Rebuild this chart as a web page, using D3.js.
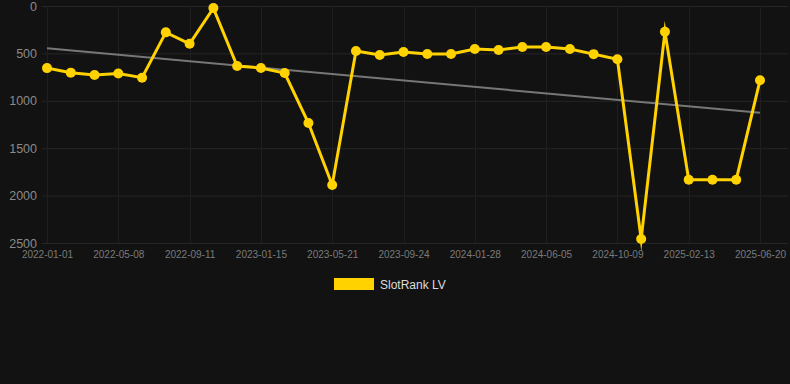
<!DOCTYPE html>
<html><head><meta charset="utf-8">
<script src="https://cdn.jsdelivr.net/npm/d3@7"></script>
<style>html,body{margin:0;padding:0;background:#121212;}svg{display:block;}</style>
</head><body>
<svg id="chart" width="790" height="384"></svg>
<script>
const categories = ["2022-01-01","2022-02-12","2022-03-26","2022-05-08","2022-06-19","2022-07-31","2022-09-11","2022-10-23","2022-12-04","2023-01-15","2023-02-26","2023-04-09","2023-05-21","2023-07-02","2023-08-13","2023-09-24","2023-11-05","2023-12-17","2024-01-28","2024-03-11","2024-04-23","2024-06-05","2024-07-17","2024-08-28","2024-10-09","2024-11-20","2025-01-01","2025-02-13","2025-03-28","2025-05-09","2025-06-20"];
const rankValues = [655,703,728,712,756,278,398,22,633,654,707,1234,1888,475,517,485,506,506,454,464,432,432,454,508,562,2458,271,1832,1832,1832,784];
const trendValues = [446,1125];
const yTicks = [0,500,1000,1500,2000,2500];
const seriesName = "SlotRank LV";

const svg = d3.select("#chart");
const W = 790, H = 384;
const plot = {left:42, right:788, top:6, bottom:243};
const x = d3.scalePoint().domain(categories).range([47,760]);
const y = d3.scaleLinear().domain([0,2500]).range([plot.top, plot.bottom]);
const color = "#ffd200";

svg.append("rect").attr("width",W).attr("height",H).attr("fill","#121212");

const tickCats = categories.filter((d,i)=>i%3===0);
// grid
svg.append("g").selectAll("line").data(yTicks).join("line")
  .attr("x1",plot.left).attr("x2",plot.right)
  .attr("y1",d=>y(d)+0.5).attr("y2",d=>y(d)+0.5)
  .attr("stroke","#262626").attr("stroke-width",1);
svg.append("g").selectAll("line").data(tickCats).join("line")
  .attr("x1",d=>Math.round(x(d))+0.5).attr("x2",d=>Math.round(x(d))+0.5)
  .attr("y1",plot.top).attr("y2",plot.bottom)
  .attr("stroke","#1f1f1f").attr("stroke-width",1);

// y axis labels
const yAxis = d3.axisLeft(y).tickValues(yTicks).tickFormat(d3.format("d")).tickSize(0).tickPadding(0);
const gy = svg.append("g").attr("transform","translate(37,0)").call(yAxis);
gy.select(".domain").remove();
gy.selectAll("text").attr("fill","#8a8a8a").style("font-family","Liberation Sans, Arial, sans-serif").style("font-size","12.5px");

// x axis labels
const xAxis = d3.axisBottom(x).tickValues(tickCats).tickSize(0).tickPadding(0);
const gx = svg.append("g").attr("transform","translate(0,251)").call(xAxis);
gx.select(".domain").remove();
gx.selectAll("text").attr("fill","#7a7a7a").style("font-family","Liberation Sans, Arial, sans-serif").style("font-size","10px");

// trend line
svg.append("line")
  .attr("x1",x(categories[0])).attr("y1",y(trendValues[0]))
  .attr("x2",x(categories[categories.length-1])).attr("y2",y(trendValues[1]))
  .attr("stroke","#777").attr("stroke-width",2);

// series line
const line = d3.line().x((d,i)=>x(categories[i])).y(d=>y(d));
svg.append("path").datum(rankValues).attr("d",line)
  .attr("fill","none").attr("stroke",color).attr("stroke-width",3)
  .attr("stroke-linejoin","miter").attr("stroke-miterlimit",10);
svg.append("g").selectAll("circle").data(rankValues).join("circle")
  .attr("cx",(d,i)=>x(categories[i])).attr("cy",d=>y(d)).attr("r",5)
  .attr("fill",color);

// legend
svg.append("rect").attr("x",334).attr("y",278).attr("width",40).attr("height",12).attr("fill",color);
svg.append("text").attr("x",380).attr("y",289).text(seriesName)
  .attr("fill","#dddddd").style("font-family","Liberation Sans, Arial, sans-serif").style("font-size","12px");
</script>
</body></html>
